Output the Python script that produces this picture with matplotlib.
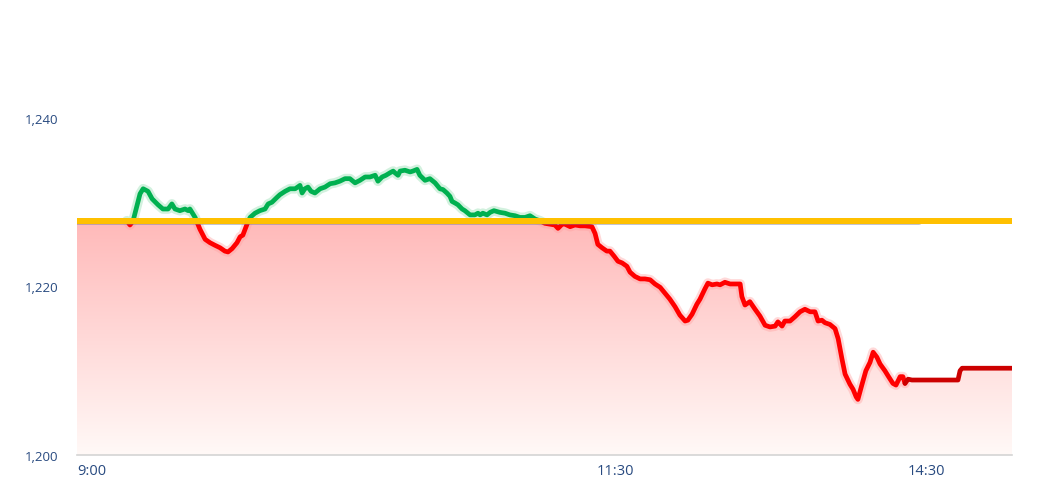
import numpy as np
import matplotlib
matplotlib.use("Agg")
import matplotlib.pyplot as plt
import matplotlib.patheffects as pe
from matplotlib.patches import Rectangle
from matplotlib.colors import LinearSegmentedColormap

plt.rcParams['font.family'] = ['Open Sans', 'DejaVu Sans']

# trading minutes since 9:00 (morning 9:00-11:30, afternoon 13:00-15:00 joined)
minutes = [0, 14.4, 15.3, 16.2, 18.2, 19.1, 20.5, 21.7, 23.4, 24.8, 26.3, 27.4, 28.3, 29.7,
           31.2, 32.1, 32.6, 34.1, 35.5, 37.0, 38.4, 39.8, 41.3, 42.7, 43.6, 44.8, 46.2,
           47.1, 47.9, 49.1, 50.0, 51.4, 52.8, 54.3, 55.2, 56.3, 57.8, 58.6, 60.1, 61.5,
           63.0, 64.4, 65.0, 65.8, 66.7, 67.6, 68.7, 70.2, 71.6, 73.1, 74.5, 75.9, 77.4,
           78.8, 80.3, 81.7, 83.2, 84.6, 86.1, 86.9, 88.1, 89.2, 90.4, 91.3, 91.8, 92.7,
           93.3, 94.7, 96.2, 97.0, 98.2, 99.0, 100.5, 101.9, 103.4, 104.8, 105.7, 106.8,
           107.7, 108.3, 109.2, 110.0, 111.2, 112.0, 113.5, 114.9, 115.8, 116.4, 117.2,
           118.4, 119.3, 120.4, 122.1, 123.6, 125.0, 126.5, 127.9, 129.4, 130.8, 132.3,
           133.7, 135.1, 136.6, 138.0, 138.9, 140.1, 140.9, 142.4, 143.8, 145.3, 146.7,
           148.7, 149.6, 150.4, 151.6, 153.0, 153.9, 155.1, 156.2, 157.4, 158.8, 159.7,
           161.1, 162.6, 164.0, 165.5, 166.9, 168.4, 169.8, 171.2, 172.7, 174.1, 175.6,
           176.4, 177.6, 179.0, 179.9, 181.3, 182.2, 183.4, 184.8, 185.7, 187.1, 188.6,
           190.0, 191.5, 192.0, 192.9, 194.3, 195.8, 197.2, 198.7, 200.1, 201.6, 202.4,
           203.6, 204.4, 205.9, 207.3, 208.8, 210.2, 211.7, 213.1, 214.0, 215.1, 216.0,
           217.4, 218.9, 219.8, 220.9, 221.8, 223.2, 224.1, 225.0, 225.5, 226.7, 227.8,
           229.0, 229.9, 231.0, 231.9, 233.3, 234.2, 235.6, 236.5, 237.7, 238.5, 239.1]
price = [1227.8, 1227.8, 1227.3, 1227.8, 1231.0, 1231.6, 1231.3, 1230.4, 1229.7, 1229.2,
         1229.2, 1229.8, 1229.2, 1229.0, 1229.2, 1229.0, 1229.2, 1228.2, 1226.8, 1225.6,
         1225.2, 1224.9, 1224.6, 1224.2, 1224.1, 1224.5, 1225.2, 1225.9, 1226.1, 1227.4,
         1228.2, 1228.7, 1229.0, 1229.2, 1229.8, 1230.0, 1230.6, 1230.9, 1231.3, 1231.6,
         1231.6, 1232.0, 1231.1, 1231.6, 1231.8, 1231.3, 1231.1, 1231.6, 1231.8, 1232.2,
         1232.3, 1232.5, 1232.8, 1232.8, 1232.3, 1232.6, 1233.0, 1233.0, 1233.2, 1232.5,
         1233.0, 1233.2, 1233.5, 1233.7, 1233.5, 1233.2, 1233.7, 1233.8, 1233.6, 1233.7,
         1233.9, 1233.2, 1232.6, 1232.8, 1232.3, 1231.6, 1231.5, 1231.1, 1230.7, 1230.1,
         1229.9, 1229.7, 1229.2, 1229.0, 1228.5, 1228.5, 1228.7, 1228.5, 1228.7, 1228.5,
         1228.8, 1229.0, 1228.8, 1228.7, 1228.5, 1228.4, 1228.2, 1228.2, 1228.4, 1228.0,
         1227.8, 1227.5, 1227.4, 1227.3, 1226.9, 1227.4, 1227.4, 1227.1, 1227.3, 1227.2,
         1227.2, 1227.1, 1226.3, 1225.0, 1224.6, 1224.2, 1224.2, 1223.6, 1223.0, 1222.8,
         1222.4, 1221.7, 1221.2, 1220.9, 1220.9, 1220.8, 1220.3, 1219.9, 1219.2, 1218.5,
         1217.6, 1216.6, 1215.9, 1216.0, 1216.7, 1217.9, 1218.5, 1219.7, 1220.4, 1220.2,
         1220.3, 1220.2, 1220.5, 1220.3, 1220.3, 1220.3, 1218.8, 1217.8, 1218.2, 1217.3,
         1216.5, 1215.4, 1215.2, 1215.3, 1215.8, 1215.3, 1215.9, 1215.9, 1216.4, 1217.0,
         1217.3, 1217.0, 1217.0, 1215.9, 1216.0, 1215.7, 1215.5, 1215.0, 1213.8, 1211.4,
         1209.6, 1208.4, 1207.8, 1206.9, 1206.6, 1208.4, 1210.0, 1211.0, 1212.2, 1211.6,
         1210.8, 1210.0, 1209.4, 1208.5, 1208.3, 1209.3, 1209.3, 1208.5]

# closing part of the session (drawn darker, no glow)
close_minutes = [239.1, 240.0, 241.1, 254.4, 255.0, 255.6, 270.0]
close_price = [1208.5, 1209.0, 1208.9, 1208.9, 1210.0, 1210.3, 1210.3]

base_price = 1227.8  # previous close
session_end = 270
y_ticks = [1200, 1220, 1240]
y_labels = ['1,200', '1,220', '1,240']
x_ticks = [0, 150, 240]
x_labels = ['9:00', '11:30', '14:30']

fig = plt.figure(figsize=(10.64, 4.85), dpi=100)
ax = fig.add_axes([77 / 1064, 29 / 485, 935 / 1064, 421.25 / 485])
ax.set_xlim(0, session_end)
ax.set_ylim(1200, 1250)

all_x = np.array(minutes + close_minutes[1:])
all_y = np.array(price + close_price[1:])

# gradient fill below previous close and below price
fill = ax.fill_between(all_x, 1200, np.minimum(all_y, base_price), facecolor='none',
                       edgecolor='none')
cmap = LinearSegmentedColormap.from_list('pk', ['#fff9f7', '#ffb9b9'])
grad = np.linspace(0, 1, 256).reshape(-1, 1)
im = ax.imshow(grad, extent=[0, session_end, 1200, base_price], origin='lower',
               aspect='auto', cmap=cmap, zorder=1)
im.set_clip_path(fill.get_paths()[0], transform=ax.transData)

# price line, green above previous close, red below
gap = 0.3
layers = [('#00b050', '#8fdcae', base_price, 100, base_price + gap, 100),
          ('#ff0000', '#ffa0a0', 1100, base_price - 1100, 1100, base_price - gap - 1100)]
for color, glow, y0, h, gy0, gh in layers:
    clip = Rectangle((0, y0), session_end, h, transform=ax.transData)
    gclip = Rectangle((0, gy0), session_end, gh, transform=ax.transData)
    # no glow on the flat opening stretch that sits on the previous close
    g, = ax.plot(minutes[1:], price[1:], color=glow, lw=7, alpha=0.4, zorder=2,
                 solid_capstyle='round', solid_joinstyle='round')
    ln, = ax.plot(minutes, price, color=color, lw=3.4, zorder=3,
                  solid_capstyle='round', solid_joinstyle='round')
    g.set_clip_path(gclip)
    ln.set_clip_path(clip)

ax.plot(close_minutes, close_price, color='#cc0000', lw=3.4, zorder=3,
        solid_capstyle='round', solid_joinstyle='round')

# previous close line
ax.plot([0, 243], [base_price, base_price], color='#ffc000', lw=4.3, zorder=4,
        solid_capstyle='round',
        path_effects=[pe.SimpleLineShadow(offset=(0, -1.2), shadow_color='#7a7a9a', alpha=0.45),
                      pe.Normal()])
ax.plot([0, session_end], [base_price, base_price], color='#ffc000', lw=4.3, zorder=4,
        solid_capstyle='round')

for s in ['top', 'right', 'left']:
    ax.spines[s].set_visible(False)
ax.spines['bottom'].set_color('#d4d4d4')
ax.spines['bottom'].set_linewidth(1.2)

ax.set_yticks(y_ticks)
ax.set_yticklabels(y_labels, fontsize=9.5, color='#284a80')
ax.set_xticks(x_ticks)
ax.set_xticklabels(x_labels, fontsize=10.5, color='#284a80', ha='left')
ax.tick_params(axis='y', length=0, pad=13.5)
ax.tick_params(axis='x', length=0, pad=6)

fig.savefig('out.png', dpi=100, facecolor='white')
